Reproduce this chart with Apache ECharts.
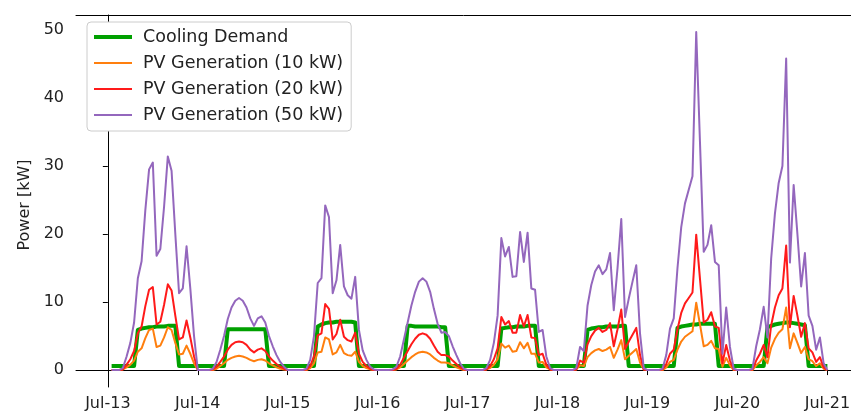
<!DOCTYPE html>
<html>
<head>
<meta charset="utf-8">
<script src="https://cdn.jsdelivr.net/npm/echarts@6/dist/echarts.min.js"></script>
<style>
  html, body { margin: 0; padding: 0; background: #fff; }
  #chart { width: 851px; height: 414px; }
</style>
</head>
<body>
<div id="chart"></div>
<script>
// hourly samples, first one at Jul-13 01:00, last one at Jul-21 00:00
var startHour = 1;
var dayTicks = [0, 24, 48, 72, 96, 120, 144, 168, 192];
var dayLabels = ['Jul-13', 'Jul-14', 'Jul-15', 'Jul-16', 'Jul-17', 'Jul-18', 'Jul-19', 'Jul-20', 'Jul-21'];
var yTicks = [0, 10, 20, 30, 40, 50];

var coolingDemand = [
  0.6,0.6,0.6,0.6,0.6,0.6,0.6, 5.9,6.1,6.2,6.3,6.3,6.4,6.4,6.4,6.5,6.5,6.5, 0.6,0.6,0.6,0.6,0.6,0.6,
  0.6,0.6,0.6,0.6,0.6,0.6,0.6, 6.0,6.0,6.0,6.0,6.0,6.0,6.0,6.0,6.0,6.0,6.0, 0.6,0.6,0.6,0.6,0.6,0.6,
  0.6,0.6,0.6,0.6,0.6,0.6,0.6, 6.4,6.7,6.9,7.0,7.0,7.1,7.1,7.1,7.1,7.1,7.0, 0.6,0.6,0.6,0.6,0.6,0.6,
  0.6,0.6,0.6,0.6,0.6,0.6,0.6, 6.5,6.5,6.4,6.4,6.4,6.4,6.4,6.4,6.4,6.3,6.3, 0.6,0.6,0.6,0.6,0.6,0.6,
  0.6,0.6,0.6,0.6,0.6,0.6,0.6,0.6, 6.1,6.2,6.3,6.3,6.4,6.4,6.4,6.5,6.5,6.5, 0.6,0.6,0.6,0.6,0.6,0.6,
  0.6,0.6,0.6,0.6,0.6,0.6,0.6, 5.9,6.1,6.2,6.3,6.3,6.4,6.4,6.4,6.4,6.5,6.5, 0.6,0.6,0.6,0.6,0.6,0.6,
  0.6,0.6,0.6,0.6,0.6,0.6,0.6, 6.2,6.4,6.5,6.6,6.7,6.7,6.8,6.8,6.8,6.8,6.8, 0.6,0.6,0.6,0.6,0.6,0.6,
  0.6,0.6,0.6,0.6,0.6,0.6,0.6, 6.3,6.5,6.7,6.8,6.9,7.0,7.0,6.9,6.8,6.7,6.6, 0.6,0.6,0.6,0.6,0.6,0.6
];

var pv10 = [
  0,0,0,0.1,0.4,0.8,1.4,2.7,3.2,4.7,5.9,6.1,3.4,3.6,4.8,6.3,5.9,4,2.3,2.4,3.6,2.4,1,0,
  0,0,0,0,0.2,0.6,1,1.5,1.8,2,2.1,2,1.8,1.5,1.3,1.5,1.6,1.4,1,0.7,0.4,0.2,0.1,0,
  0,0,0,0,0,0.3,1,2.6,2.7,4.8,4.5,2.3,2.6,3.7,2.5,2.2,2.1,2.7,1.2,0.6,0.3,0.1,0,0,
  0,0,0,0,0.1,0.4,0.9,1.4,1.9,2.3,2.6,2.7,2.6,2.3,1.8,1.4,1.1,1.1,1,0.7,0.4,0.2,0,0,
  0,0,0,0,0.1,0.3,0.8,1.6,3.9,3.3,3.6,2.7,2.8,4.1,3.2,4,2.4,2.4,1.1,1.2,0.4,0.1,0,0,
  0,0,0,0,0.1,0.7,0.6,1.9,2.5,2.9,3.1,2.8,3,3.4,1.8,3,4.4,1.6,2.1,2.6,3.1,1.1,0.1,0,
  0,0,0,0,0.4,1.2,1.5,3,4.2,4.9,5.3,5.7,9.9,6.7,3.5,3.7,4.3,3.2,3.1,0.5,1.8,0.7,0,0,
  0,0,0,0,0.7,1.2,1.9,1,3.3,4.6,5.5,6,9.2,3.2,5.4,4,2.5,3.4,1.6,1.3,0.6,1,0.2,0
];

var pv20 = [
  0,0,0,0.1,0.8,1.6,2.8,5.4,6.4,9.4,11.8,12.2,6.7,7.1,9.6,12.6,11.7,8,4.5,4.8,7.3,4.8,2,0,
  0,0,0,0.1,0.5,1.2,2,3,3.7,4.1,4.2,4.1,3.7,3,2.6,3,3.2,2.8,2,1.4,0.9,0.5,0.2,0,
  0,0,0,0,0.1,0.6,2,5.1,5.4,9.7,9,4.5,5.3,7.4,4.9,4.4,4.2,5.5,2.4,1.2,0.6,0.2,0,0,
  0,0,0,0,0.2,0.8,1.8,2.8,3.8,4.6,5.2,5.4,5.2,4.6,3.6,2.7,2.2,2.2,2,1.4,0.9,0.4,0.1,0,
  0,0,0,0,0.1,0.6,1.6,3.2,7.8,6.7,7.2,5.5,5.5,8.1,6.4,8.1,4.8,4.7,2.2,2.4,0.8,0.1,0,0,
  0,0,0,0,0.1,1.4,1.1,3.8,5,5.8,6.2,5.6,5.9,6.9,3.5,6,8.9,3.1,4.2,5.2,6.2,2.2,0.1,0,
  0,0,0,0.1,0.9,2.4,3,6,8.4,9.8,10.6,11.4,19.9,13.4,7,7.4,8.5,6.4,6.2,1,3.7,1.4,0.1,0,
  0,0,0,0.1,1.4,2.4,3.7,1.9,6.6,9.2,11,12,18.3,6.3,10.9,8,4.9,6.9,3.2,2.6,1.2,1.9,0.4,0
];

var pv50 = [
  0,0,0,0.3,2,4,7,13.5,16,23.5,29.5,30.5,16.8,17.8,24,31.4,29.3,20,11.3,12,18.2,12,5,0,
  0,0,0,0.2,1.2,3,5,7.5,9.2,10.2,10.6,10.2,9.2,7.6,6.5,7.6,7.9,7,5,3.5,2.2,1.2,0.5,0,
  0,0,0,0,0.2,1.5,5,12.8,13.5,24.2,22.5,11.3,13.2,18.4,12.3,11,10.5,13.7,5.9,2.9,1.5,0.5,0.1,0,
  0,0,0,0.1,0.5,2,4.5,7,9.5,11.5,13,13.5,13,11.5,9,6.8,5.5,5.6,5,3.5,2.2,1,0.2,0,
  0,0,0,0,0.3,1.5,4,8,19.4,16.7,18.1,13.7,13.8,20.3,15.9,20.2,12,11.8,5.6,5.9,2,0.3,0,0,
  0,0,0,0,0.3,3.4,2.8,9.5,12.5,14.5,15.4,14.1,14.8,17.2,8.8,15,22.2,7.8,10.5,13,15.4,5.4,0.3,0,
  0,0,0,0.2,2.2,6.1,7.6,15,21,24.5,26.5,28.5,49.7,33.5,17.4,18.4,21.3,15.9,15.4,2.4,9.2,3.4,0.2,0,
  0,0,0,0.2,3.5,6,9.3,4.8,16.4,23,27.5,30,45.8,15.8,27.2,20,12.3,17.2,8,6.5,3,4.8,1,0
];

var font = 'DejaVu Sans';

function pairs(values) {
  return values.map(function (v, i) { return [startHour + i, v]; });
}

function lineSeries(name, values, color, width) {
  return {
    name: name,
    type: 'line',
    data: pairs(values),
    showSymbol: false,
    symbol: 'none',
    color: color,
    lineStyle: { color: color, width: width, join: 'round' },
    emphasis: { disabled: true },
    animation: false
  };
}

var chart = echarts.init(document.getElementById('chart'), null, { renderer: 'canvas' });

chart.setOption({
  backgroundColor: '#ffffff',
  animation: false,
  grid: {
    left: 76,
    right: 0,
    top: 15,
    bottom: 27,
    containLabel: false,
    outerBoundsMode: 'none'
  },
  legend: {
    orient: 'vertical',
    left: 87,
    top: 22,
    itemWidth: 38,
    itemHeight: 14,
    itemGap: 8,
    padding: [6, 8, 7, 5],
    borderColor: '#cccccc',
    borderWidth: 1,
    borderRadius: 4,
    backgroundColor: '#ffffff',
    // hide the marker dot, keep the line
    itemStyle: { opacity: 0, borderWidth: 0 },
    textStyle: { fontFamily: font, fontSize: 17.5, color: '#222', padding: [0, 0, 0, 6], lineHeight: 16 },
    data: [
      { name: 'Cooling Demand', lineStyle: { width: 4 } },
      'PV Generation (10 kW)',
      'PV Generation (20 kW)',
      'PV Generation (50 kW)'
    ]
  },
  xAxis: [
    {
      type: 'value',
      min: -8.5,
      max: 198.3,
      axisLine: { show: true, lineStyle: { color: '#000', width: 1 } },
      axisTick: { show: true, customValues: dayTicks, length: 5, lineStyle: { color: '#000' } },
      axisLabel: {
        customValues: dayTicks,
        formatter: function (v) { return dayLabels[dayTicks.indexOf(v)]; },
        fontFamily: font,
        fontSize: 16,
        color: '#222',
        margin: 9
      },
      splitLine: { show: false }
    },
    {
      type: 'value',
      position: 'top',
      min: -8.5,
      max: 198.3,
      axisLine: { show: true, lineStyle: { color: '#000', width: 1 } },
      axisTick: { show: false },
      axisLabel: { show: false },
      splitLine: { show: false }
    }
  ],
  yAxis: {
    type: 'value',
    min: -2.485,
    max: 52.185,
    name: 'Power [kW]',
    nameLocation: 'middle',
    nameGap: 41,
    nameTextStyle: { fontFamily: font, fontSize: 16, color: '#222', padding: [0, 8, 0, 0] },
    axisLine: { show: true, lineStyle: { color: '#000', width: 1 } },
    axisTick: { show: true, customValues: yTicks, length: 5, lineStyle: { color: '#000' } },
    axisLabel: { customValues: yTicks, fontFamily: font, fontSize: 16, color: '#222', margin: 12 },
    splitLine: { show: false }
  },
  series: [
    lineSeries('Cooling Demand', coolingDemand, '#00a000', 4),
    lineSeries('PV Generation (10 kW)', pv10, '#ff7f0e', 2),
    lineSeries('PV Generation (20 kW)', pv20, '#ff1a1a', 2),
    lineSeries('PV Generation (50 kW)', pv50, '#9467bd', 2)
  ]
});
</script>
</body>
</html>
